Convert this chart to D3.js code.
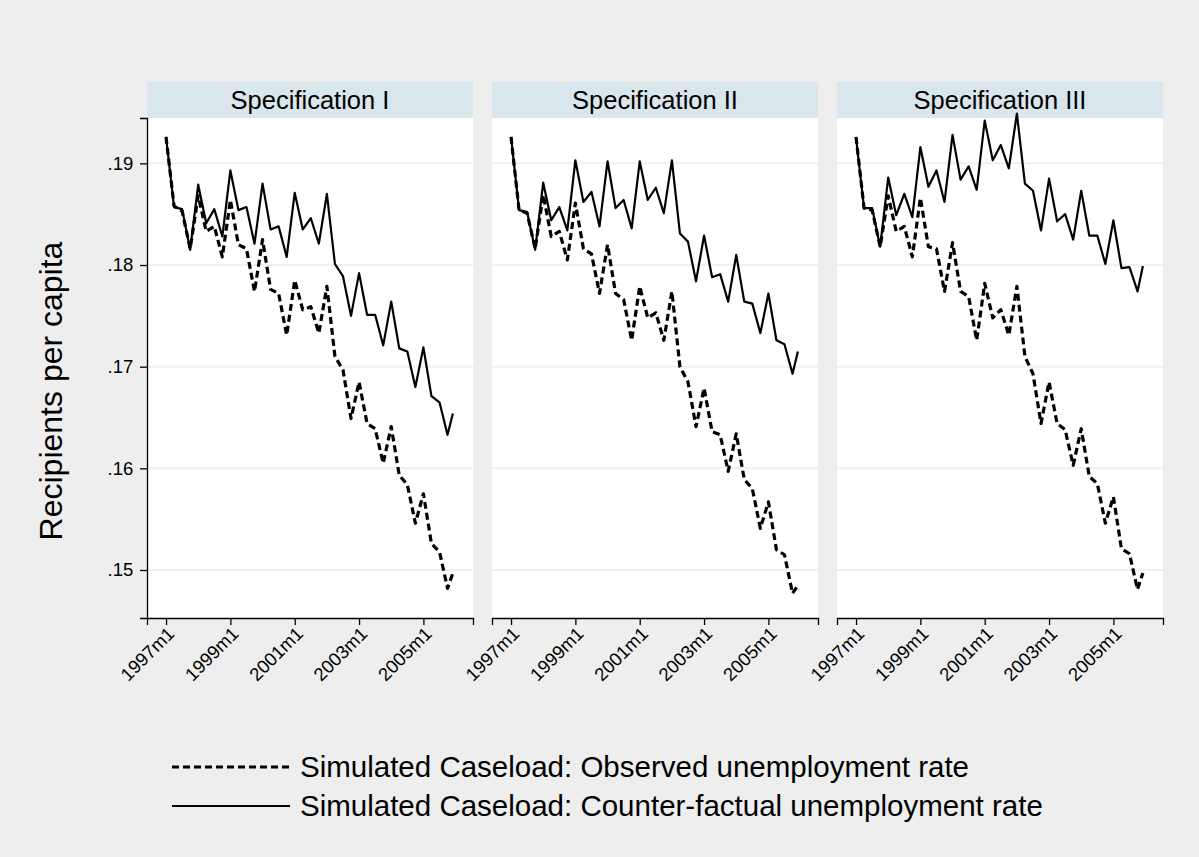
<!DOCTYPE html>
<html>
<head>
<meta charset="utf-8">
<script src="https://cdn.jsdelivr.net/npm/d3@7"></script>
<style>
  body { margin: 0; background: #eeeeee; }
  svg { display: block; font-family: "Liberation Sans", Arial, sans-serif; }
</style>
</head>
<body>
<svg id="chart"></svg>
<script>
// quarterly observations (plus the last month)
const periods = ["1997m1","1997m4","1997m7","1997m10","1998m1","1998m4","1998m7","1998m10",
  "1999m1","1999m4","1999m7","1999m10","2000m1","2000m4","2000m7","2000m10",
  "2001m1","2001m4","2001m7","2001m10","2002m1","2002m4","2002m7","2002m10",
  "2003m1","2003m4","2003m7","2003m10","2004m1","2004m4","2004m7","2004m10",
  "2005m1","2005m4","2005m7","2005m10","2005m12"];

const panels = ["Specification I", "Specification II", "Specification III"];

// observed unemployment rate (dashed)
const spec1Obs = [.1926,.1858,.1853,.1816,.1868,.1833,.1838,.1808,.1864,.1820,.1816,.1774,
  .1825,.1776,.1772,.1731,.1785,.1756,.1759,.1733,.1779,.1710,.1697,.1649,
  .1685,.1644,.1639,.1605,.1641,.1593,.1584,.1546,.1575,.1526,.1518,.1482,.1497];
const spec2Obs = [.1926,.1854,.1851,.1816,.1869,.1828,.1833,.1805,.1861,.1816,.1811,.1772,
  .1820,.1772,.1766,.1726,.1779,.1748,.1753,.1726,.1774,.1700,.1685,.1641,
  .1679,.1636,.1633,.1597,.1634,.1589,.1580,.1541,.1567,.1520,.1515,.1477,.1485];
const spec3Obs = [.1926,.1856,.1854,.1818,.1868,.1833,.1838,.1808,.1866,.1818,.1816,.1774,
  .1822,.1774,.1769,.1726,.1782,.1748,.1756,.1731,.1779,.1710,.1693,.1644,
  .1685,.1644,.1638,.1603,.1639,.1592,.1585,.1546,.1572,.1521,.1516,.1481,.1497];

// counter-factual unemployment rate (solid)
const spec1Cf = [.1926,.1857,.1855,.1815,.1879,.1841,.1855,.1828,.1893,.1854,.1857,.1821,
  .1880,.1835,.1838,.1808,.1871,.1835,.1846,.1821,.1870,.1801,.1789,.1750,
  .1792,.1751,.1751,.1721,.1764,.1718,.1715,.1680,.1719,.1671,.1665,.1633,.1654];
const spec2Cf = [.1926,.1854,.1852,.1815,.1881,.1844,.1857,.1834,.1903,.1862,.1872,.1838,
  .1902,.1856,.1864,.1836,.1902,.1864,.1876,.1851,.1903,.1831,.1823,.1784,
  .1829,.1788,.1791,.1764,.1810,.1764,.1762,.1733,.1772,.1726,.1722,.1693,.1715];
const spec3Cf = [.1925,.1856,.1856,.1818,.1886,.1849,.1870,.1847,.1916,.1877,.1893,.1862,
  .1928,.1884,.1897,.1874,.1942,.1903,.1918,.1895,.1949,.1880,.1873,.1834,
  .1885,.1843,.1850,.1825,.1873,.1829,.1829,.1801,.1844,.1797,.1798,.1774,.1799];

const xTicks = ["1997m1","1999m1","2001m1","2003m1","2005m1"];
const yTicks = [.15, .16, .17, .18, .19];
const yTickLabels = [".15", ".16", ".17", ".18", ".19"];

const legendLabels = ["Simulated Caseload: Observed unemployment rate",
  "Simulated Caseload: Counter-factual unemployment rate"];

const obsSeries = [spec1Obs, spec2Obs, spec3Obs];
const cfSeries = [spec1Cf, spec2Cf, spec3Cf];

// month index since 1997m1
function monthIndex(s) {
  const [yr, m] = s.split("m").map(Number);
  return (yr - 1997) * 12 + (m - 1);
}

const W = 1199, H = 857;
const svg = d3.select("#chart").attr("width", W).attr("height", H);

svg.append("rect").attr("width", W).attr("height", H).attr("fill", "#eeeeee");

const panelW = 326, panelH = 500, plotTop = 118, stripH = 36;
const panelX = [147, 492, 837];

const x = d3.scaleLinear().domain([-7.1, 114.5]).range([0, panelW]);
const y = d3.scaleLinear().domain([0.14528, 0.19446]).range([panelH, 0]);

const line = d3.line()
  .x(d => x(d[0]))
  .y(d => y(d[1]));

panels.forEach((title, i) => {
  const g = svg.append("g").attr("transform", `translate(${panelX[i]},${plotTop})`);

  // strip
  g.append("rect")
    .attr("x", 0).attr("y", -stripH)
    .attr("width", panelW).attr("height", stripH)
    .attr("fill", "#d9e6eb");
  g.append("text")
    .attr("x", panelW / 2).attr("y", -stripH / 2 + 9)
    .attr("text-anchor", "middle")
    .style("font-size", "25.5px")
    .style("fill", "#000")
    .text(title);

  // plot area
  g.append("rect").attr("width", panelW).attr("height", panelH).attr("fill", "#fff");

  // gridlines
  g.selectAll("line.grid").data(yTicks).enter().append("line")
    .attr("class", "grid")
    .attr("x1", 0).attr("x2", panelW)
    .attr("y1", d => y(d)).attr("y2", d => y(d))
    .attr("stroke", "#eaf2f3").attr("stroke-width", 2);

  // x axis
  const xa = g.append("g")
    .attr("transform", `translate(0,${panelH})`)
    .call(d3.axisBottom(x).tickValues(xTicks.map(monthIndex)).tickSize(7)
      .tickFormat((d, k) => xTicks[k]));
  xa.select(".domain").attr("stroke", "#000").attr("stroke-width", 1.3);
  xa.selectAll(".tick line").attr("stroke", "#000").attr("stroke-width", 1.3);
  xa.selectAll("text")
    .attr("transform", "rotate(-45)")
    .attr("dx", "-0.3em").attr("dy", "0.45em")
    .style("text-anchor", "end")
    .style("font-size", "18.5px")
    .style("font-family", "Liberation Sans, Arial, sans-serif")
    .style("fill", "#000");

  if (i === 0) {
    const ya = g.append("g")
      .call(d3.axisLeft(y).tickValues(yTicks).tickSize(7)
        .tickFormat((d, k) => yTickLabels[k]));
    ya.select(".domain").attr("stroke", "#000").attr("stroke-width", 1.3);
    ya.selectAll(".tick line").attr("stroke", "#000").attr("stroke-width", 1.3);
    ya.selectAll("text")
      .attr("dx", "-0.2em")
      .style("font-size", "18.5px")
      .style("font-family", "Liberation Sans, Arial, sans-serif")
      .style("fill", "#000");
  }

  const pts = periods.map(monthIndex);

  g.append("path")
    .datum(pts.map((m, k) => [m, cfSeries[i][k]]))
    .attr("d", line)
    .attr("fill", "none")
    .attr("stroke", "#000")
    .attr("stroke-width", 2.2)
    .attr("stroke-linejoin", "round");

  g.append("path")
    .datum(pts.map((m, k) => [m, obsSeries[i][k]]))
    .attr("d", line)
    .attr("fill", "none")
    .attr("stroke", "#000")
    .attr("stroke-width", 3.2)
    .attr("stroke-dasharray", "7,4")
    .attr("stroke-linejoin", "round");
});

// y axis title
svg.append("text")
  .attr("transform", "translate(62,391) rotate(-90)")
  .attr("text-anchor", "middle")
  .style("font-size", "32px")
  .style("fill", "#000")
  .text("Recipients per capita");

// legend
const legend = svg.append("g");
[0, 1].forEach(k => {
  const ly = 767 + k * 39;
  legend.append("line")
    .attr("x1", 172).attr("x2", 290)
    .attr("y1", ly).attr("y2", ly)
    .attr("stroke", "#000")
    .attr("stroke-width", k === 0 ? 3.2 : 2)
    .attr("stroke-dasharray", k === 0 ? "7,4" : null);
  legend.append("text")
    .attr("x", 300).attr("y", ly + 10)
    .style("font-size", "29.5px")
    .style("fill", "#000")
    .text(legendLabels[k]);
});
</script>
</body>
</html>
